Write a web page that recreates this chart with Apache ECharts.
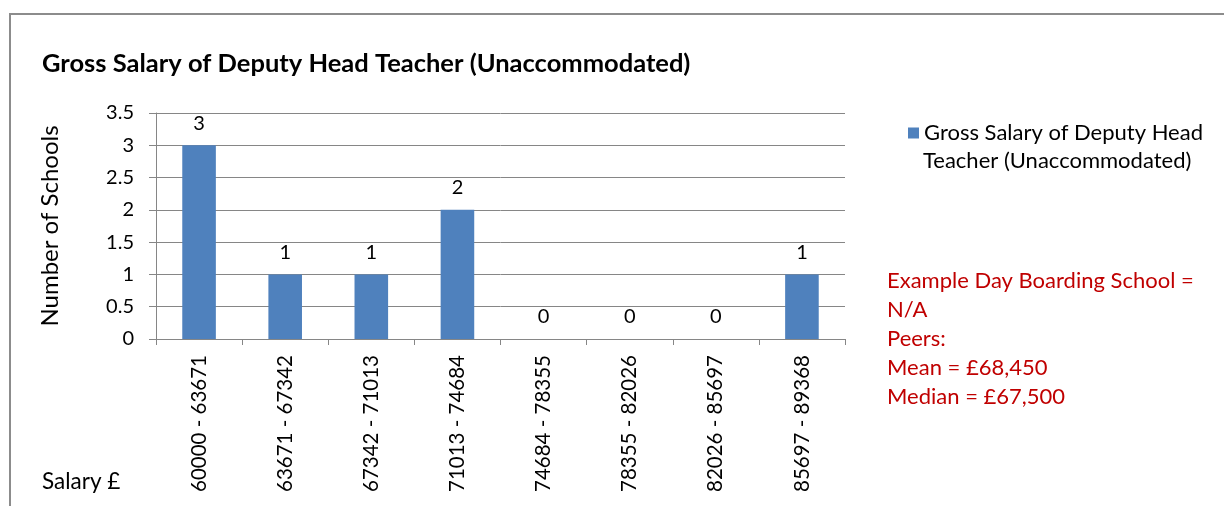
<!DOCTYPE html>
<html>
<head>
<meta charset="utf-8">
<script src="https://cdn.jsdelivr.net/npm/echarts@6/dist/echarts.min.js"></script>
<style>
  html, body { margin: 0; padding: 0; background: #fff; }
  #main { width: 1224px; height: 506px; }
</style>
</head>
<body>
<div id="main"></div>
<script>
// data
const salaryBands = ['60000 - 63671', '63671 - 67342', '67342 - 71013', '71013 - 74684',
                     '74684 - 78355', '78355 - 82026', '82026 - 85697', '85697 - 89368'];
const schoolCounts = [3, 1, 1, 2, 0, 0, 0, 1];
const seriesName = 'Gross Salary of Deputy Head Teacher (Unaccommodated)';
const legendLines = ['Gross Salary of Deputy Head', 'Teacher (Unaccommodated)'];
const noteLines = ['Example Day Boarding School =', 'N/A', 'Peers:', 'Mean = £68,450', 'Median = £67,500'];

const FONT = 'Lato, "Liberation Sans", sans-serif';
const myChart = echarts.init(document.getElementById('main'));

const option = {
  backgroundColor: '#fff',
  animation: false,
  textStyle: { fontFamily: FONT },
  title: {
    text: seriesName,
    left: 37,
    top: 46,
    textStyle: { fontFamily: FONT, fontSize: 25.5, fontWeight: 'bold', color: '#000' }
  },
  legend: {
    left: 903,
    top: 113,
    itemWidth: 11,
    itemHeight: 11,
    icon: 'rect',
    data: [seriesName],
    formatter: function () {
      return legendLines[0];   // 2nd line drawn below as graphic
    },
    textStyle: { fontFamily: FONT, fontSize: 22, color: '#000', lineHeight: 30 }
  },
  grid: { left: 156, right: 379, top: 113, bottom: 167, containLabel: false },
  xAxis: {
    type: 'category',
    data: salaryBands,
    axisLine: { lineStyle: { color: '#868686', width: 1 } },
    axisTick: { show: true, alignWithLabel: false, length: 6, lineStyle: { color: '#868686' } },
    axisLabel: {
      rotate: 90,
      interval: 0,
      margin: 16,
      fontFamily: FONT,
      fontSize: 20.5,
      color: '#000'
    }
  },
  yAxis: {
    type: 'value',
    min: 0,
    max: 3.5,
    interval: 0.5,
    name: 'Number of Schools',
    nameLocation: 'middle',
    nameRotate: 90,
    nameGap: 94,
    nameTextStyle: { fontFamily: FONT, fontSize: 24, color: '#000' },
    axisLine: { show: true, lineStyle: { color: '#868686', width: 1 } },
    axisTick: { show: true, length: 7, lineStyle: { color: '#868686' } },
    axisLabel: { fontFamily: FONT, fontSize: 20, color: '#000', margin: 22 },
    splitLine: { lineStyle: { color: '#868686', width: 1 } }
  },
  series: [{
    name: seriesName,
    type: 'bar',
    data: schoolCounts,
    barWidth: '39%',
    itemStyle: { color: '#4F81BD' },
    label: {
      show: true,
      position: 'top',
      distance: 12,
      fontFamily: FONT,
      fontSize: 20,
      color: '#000'
    }
  }],
  graphic: [
    {
      type: 'polyline',
      shape: { points: [[10, 520], [10, 14], [1224, 14]] },
      style: { stroke: '#8c8c8c', lineWidth: 2, fill: null }
    },
    {
      type: 'text',
      left: 923,
      top: 146,
      style: { text: legendLines[1], fill: '#000', font: '22px ' + FONT, lineHeight: 30 }
    },
    {
      type: 'text',
      left: 887,
      top: 267,
      style: {
        text: noteLines.join('\n'),
        fill: '#C00000',
        font: '22px ' + FONT,
        lineHeight: 28.8
      }
    },
    {
      type: 'text',
      left: 42,
      top: 470,
      style: { text: 'Salary £', fill: '#000', font: '22.5px ' + FONT }
    }
  ]
};

myChart.setOption(option);
</script>
</body>
</html>
